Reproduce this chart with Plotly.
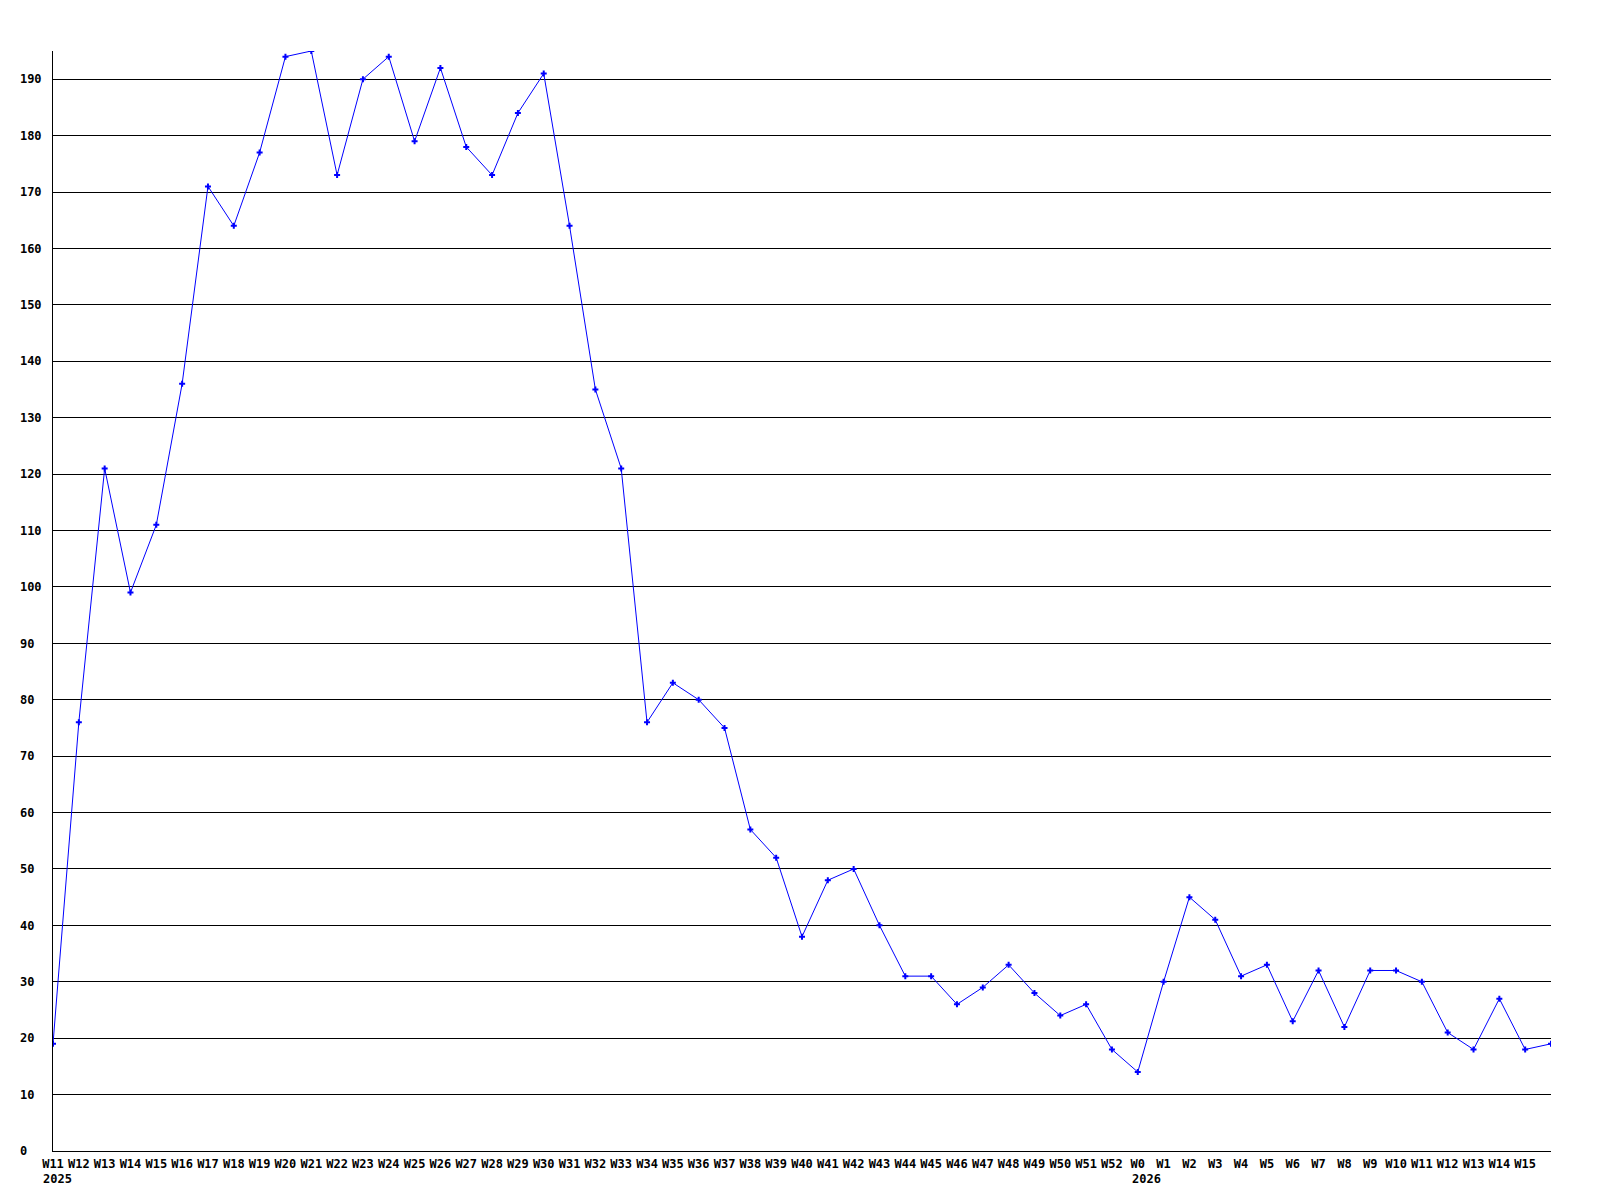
import plotly.graph_objects as go

weeks = ["W11", "W12", "W13", "W14", "W15", "W16", "W17", "W18", "W19", "W20",
         "W21", "W22", "W23", "W24", "W25", "W26", "W27", "W28", "W29", "W30",
         "W31", "W32", "W33", "W34", "W35", "W36", "W37", "W38", "W39", "W40",
         "W41", "W42", "W43", "W44", "W45", "W46", "W47", "W48", "W49", "W50",
         "W51", "W52", "W0", "W1", "W2", "W3", "W4", "W5", "W6", "W7",
         "W8", "W9", "W10", "W11", "W12", "W13", "W14", "W15", ""]
values = [19, 76, 121, 99, 111, 136, 171, 164, 177, 194,
          195, 173, 190, 194, 179, 192, 178, 173, 184, 191,
          164, 135, 121, 76, 83, 80, 75, 57, 52, 38,
          48, 50, 40, 31, 31, 26, 29, 33, 28, 24,
          26, 18, 14, 30, 45, 41, 31, 33, 23, 32,
          22, 32, 32, 30, 21, 18, 27, 18, 19]
year_marks = {0: "2025", 42: "2026"}
y_ticks = list(range(0, 200, 10))

FONT = "DejaVu Sans Mono"
xs = list(range(len(values)))

fig = go.Figure()
fig.add_trace(go.Scatter(
    x=xs, y=values, mode="lines+markers",
    line=dict(color="#0000ff", width=1),
    marker=dict(symbol="cross", size=5, color="#0000ff"),
    hoverinfo="skip", showlegend=False,
))

maxw = max(len(str(v)) for v in y_ticks)
ytext = [str(v) + "\u00a0" * (maxw - len(str(v))) for v in y_ticks]

for idx, yr in year_marks.items():
    fig.add_annotation(
        x=idx, y=0, xref="x", yref="y", text=yr, showarrow=False,
        xanchor="left", yanchor="top",
        xshift=-len(weeks[idx]) * 7.2 / 2 - 1, yshift=-19,
        font=dict(family=FONT, size=12, color="black", weight="bold"),
    )

fig.update_layout(
    width=1600, height=1200,
    margin=dict(l=43, r=57, t=43, b=57),
    paper_bgcolor="white", plot_bgcolor="white",
    xaxis=dict(
        range=[0, len(values) - 1],
        tickmode="array", tickvals=xs[:-1], ticktext=weeks[:-1],
        tickangle=0, showgrid=False, zeroline=False,
        showline=True, linecolor="black", linewidth=1,
        ticks="outside", ticklen=2, tickcolor="rgba(0,0,0,0)",
        tickfont=dict(family=FONT, size=12, color="black", weight="bold"),
    ),
    yaxis=dict(
        range=[0, 195],
        tickmode="array", tickvals=y_ticks, ticktext=ytext,
        showgrid=True, gridcolor="black", gridwidth=1,
        zeroline=False,
        showline=True, linecolor="black", linewidth=1,
        ticks="outside", ticklen=8, tickcolor="rgba(0,0,0,0)",
        tickfont=dict(family=FONT, size=12, color="black", weight="bold"),
    ),
)

fig.write_html("out.html")
